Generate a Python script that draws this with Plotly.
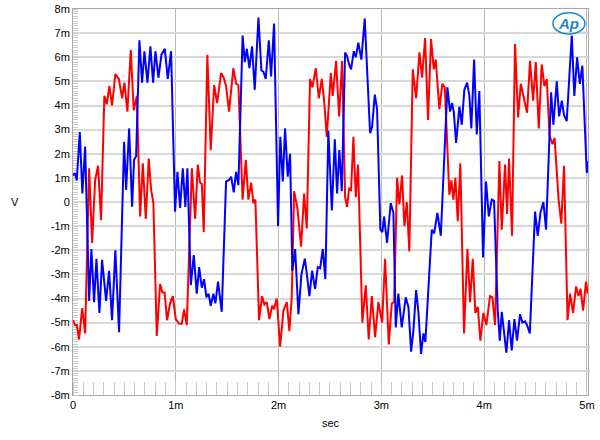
import plotly.graph_objects as go

# time in ms, voltage in mV
red_t = [0.000, 0.020, 0.037, 0.059, 0.089, 0.118, 0.157, 0.186, 0.215, 0.244, 0.273, 0.305, 0.329, 0.354, 0.380,
         0.412, 0.446, 0.478, 0.500, 0.529, 0.562, 0.591, 0.621, 0.653, 0.679, 0.708, 0.737, 0.760, 0.782, 0.815,
         0.847, 0.870, 0.891, 0.915, 0.944, 0.971, 1.000, 1.032, 1.058, 1.081, 1.107, 1.156, 1.188, 1.214, 1.236,
         1.253, 1.272, 1.307, 1.340, 1.373, 1.402, 1.441, 1.467, 1.489, 1.518, 1.560, 1.587, 1.609, 1.650, 1.681,
         1.706, 1.733, 1.755, 1.774, 1.810, 1.839, 1.862, 1.885, 1.911, 1.937, 1.956, 1.982, 2.015, 2.047, 2.080,
         2.105, 2.128, 2.151, 2.183, 2.219, 2.248, 2.274, 2.306, 2.329, 2.362, 2.391, 2.420, 2.443, 2.469, 2.508,
         2.527, 2.559, 2.589, 2.618, 2.647, 2.666, 2.686, 2.705, 2.728, 2.751, 2.773, 2.815, 2.848, 2.877, 2.907,
         2.939, 2.971, 3.007, 3.036, 3.072, 3.101, 3.124, 3.153, 3.175, 3.201, 3.224, 3.247, 3.272, 3.305, 3.338,
         3.370, 3.396, 3.425, 3.454, 3.483, 3.510, 3.529, 3.564, 3.593, 3.617, 3.661, 3.681, 3.700, 3.720, 3.743,
         3.768, 3.804, 3.837, 3.863, 3.889, 3.914, 3.938, 3.963, 3.992, 4.021, 4.057, 4.080, 4.106, 4.148, 4.171,
         4.203, 4.223, 4.242, 4.271, 4.300, 4.330, 4.356, 4.388, 4.417, 4.446, 4.476, 4.502, 4.531, 4.560, 4.586,
         4.609, 4.636, 4.665, 4.685, 4.724, 4.750, 4.777, 4.811, 4.836, 4.865, 4.894, 4.918, 4.938, 4.962, 4.991,
         5.008]
red_v = [-4.9, -5.1, -5.1, -5.7, -4.4, -5.45, 1.4, -1.7, 0.9, 1.5, -0.75, 4.4, 4.05, 4.8, 4.0,
         5.3, 5.1, 4.3, 4.95, 3.75, 6.3, 3.8, 4.4, -0.6, 1.6, -0.7, 1.8, 0.5, -0.05, -5.55,
         -3.4, -3.75, -3.75, -4.9, -4.2, -3.9, -4.85, -5.05, -5.05, -4.45, -5.1, 1.4, -0.7, 1.55, 0.8,
         0.75, -1.25, 6.1, 2.15, 4.85, 4.1, 5.35, 5.15, 4.8, 3.75, 5.55, 4.9, 4.85, 0.1, 1.75,
         0.1, 0.8, -0.05, 0.1, -4.9, -3.9, -4.25, -4.15, -4.85, -4.3, -4.45, -4.0, -6.0, -4.5, -4.15,
         -5.35, -3.95, 0.45, -0.25, -1.85, 0.35, -1.1, 5.1, 4.75, 5.55, 4.3, 5.1, 4.2, 2.7, 5.35,
         4.4, 5.85, 3.55, 5.85, 0.2, -0.2, 0.55, 0.5, 2.7, 0.2, 1.55, -5.0, -3.45, -5.7, -3.9,
         -5.6, -4.15, -5.0, -2.35, -5.9, -4.2, -4.15, 1.0, -0.1, 1.1, -1.0, 0.0, -2.05, 5.5, 4.3,
         6.2, 5.15, 6.8, 3.4, 6.75, 5.5, 5.9, 3.85, 4.9, 4.75, 0.3, 0.9, 0.1, 1.0, -0.8,
         1.6, -5.45, -1.95, -4.15, -2.35, -4.6, -4.35, -5.75, -4.6, -5.1, -3.9, -3.95, -5.1, 1.7, -1.15,
         1.55, -0.5, 1.8, -1.4, 6.55, 3.5, 4.9, 4.3, 3.7, 5.85, 4.2, 5.8, 3.05, 5.7, 4.8,
         5.1, 2.75, 2.4, 2.65, 0.1, -0.9, 1.5, -4.9, -3.8, -4.6, -3.5, -3.9, -3.6, -4.5, -3.3,
         -3.8]

blue_t = [0.000, 0.018, 0.037, 0.066, 0.091, 0.118, 0.157, 0.179, 0.205, 0.228, 0.257, 0.283, 0.322, 0.351, 0.380,
          0.412, 0.448, 0.497, 0.517, 0.546, 0.575, 0.594, 0.614, 0.646, 0.672, 0.695, 0.724, 0.753, 0.779, 0.802,
          0.831, 0.860, 0.893, 0.922, 0.954, 0.993, 1.016, 1.042, 1.068, 1.093, 1.113, 1.146, 1.175, 1.204, 1.227,
          1.253, 1.275, 1.298, 1.319, 1.340, 1.366, 1.385, 1.411, 1.447, 1.489, 1.516, 1.538, 1.564, 1.587, 1.609,
          1.650, 1.671, 1.691, 1.716, 1.742, 1.768, 1.804, 1.833, 1.852, 1.875, 1.905, 1.927, 1.956, 1.995, 2.017,
          2.041, 2.063, 2.089, 2.112, 2.134, 2.161, 2.193, 2.222, 2.255, 2.274, 2.300, 2.326, 2.355, 2.381, 2.404,
          2.430, 2.455, 2.484, 2.518, 2.547, 2.569, 2.591, 2.615, 2.647, 2.666, 2.686, 2.705, 2.732, 2.751, 2.776,
          2.805, 2.838, 2.868, 2.890, 2.909, 2.936, 2.958, 2.990, 3.010, 3.026, 3.055, 3.091, 3.117, 3.140, 3.165,
          3.198, 3.237, 3.263, 3.289, 3.311, 3.338, 3.360, 3.386, 3.409, 3.428, 3.459, 3.490, 3.513, 3.545, 3.578,
          3.642, 3.668, 3.688, 3.704, 3.727, 3.759, 3.782, 3.807, 3.834, 3.856, 3.875, 3.902, 3.928, 3.953, 3.989,
          4.018, 4.045, 4.074, 4.096, 4.132, 4.152, 4.171, 4.191, 4.216, 4.242, 4.268, 4.294, 4.320, 4.349, 4.372,
          4.398, 4.417, 4.444, 4.495, 4.521, 4.547, 4.576, 4.602, 4.651, 4.673, 4.706, 4.729, 4.755, 4.777, 4.803,
          4.852, 4.877, 4.904, 4.930, 4.955, 4.998, 5.008]
blue_v = [1.1, 1.2, 0.9, 2.9, 0.35, 2.3, -4.1, -1.95, -4.15, -2.35, -4.6, -2.4, -4.1, -2.85, -4.9,
          -2.0, -5.4, 2.5, 0.5, 3.05, -0.2, 1.75, 1.9, 6.7, 4.95, 6.25, 4.95, 6.45, 4.95, 6.25,
          5.15, 6.1, 6.35, 5.1, 6.25, -0.4, 1.25, -0.25, 1.4, -0.2, 1.4, -3.45, -2.2, -3.8, -2.7,
          -3.55, -3.2, -3.95, -3.8, -4.3, -3.8, -4.2, -3.3, -4.55, 0.85, 0.9, 1.05, 0.4, 1.25, 0.7,
          6.9, 5.8, 6.35, 5.55, 6.45, 4.65, 7.65, 5.45, 5.4, 5.1, 6.7, 5.2, 7.4, -1.0, 2.7,
          0.85, 3.05, 1.05, 2.0, -2.85, -1.95, -4.65, -3.0, -2.35, -2.95, -3.9, -2.85, -3.6, -2.7, -2.75,
          -1.95, -3.2, 2.95, -0.35, 2.6, 0.35, 2.15, 0.45, 6.2, 6.05, 5.7, 5.5, 6.25, 6.0, 6.6,
          5.9, 7.6, 4.55, 2.85, 3.1, 4.45, 3.85, -1.15, -1.25, -0.6, -1.7, -0.05, -0.45, -5.2, -3.8,
          -5.2, -3.95, -4.35, -6.2, -5.35, -3.65, -4.55, -6.3, -5.45, -5.8, -3.4, -1.15, -1.3, -0.45, -1.4,
          4.75, 3.75, 4.1, 3.75, 2.45, 3.95, 3.2, 4.65, 4.95, 4.4, 3.05, 5.9, 2.8, 4.6, -2.3,
          0.85, -0.6, 0.1, 0.05, -4.5, -5.75, -4.55, -5.45, -6.25, -4.9, -6.15, -4.85, -5.75, -4.65, -5.0,
          -4.95, -5.1, -5.45, -0.4, -1.4, -0.45, 0.0, -1.15, 4.55, 3.2, 5.0, 3.55, 4.2, 3.6, 3.35,
          6.9, 4.4, 6.0, 4.9, 5.65, 1.2, 1.7]

x_tickvals = [0, 1, 2, 3, 4, 5]
x_ticktext = ["0", "1m", "2m", "3m", "4m", "5m"]
y_tickvals = [8, 7, 6, 5, 4, 3, 2, 1, 0, -1, -2, -3, -4, -5, -6, -7, -8]
y_ticktext = ["8m", "7m", "6m", "5m", "4m", "3m", "2m", "1m", "0",
              "-1m", "-2m", "-3m", "-4m", "-5m", "-6m", "-7m", "-8m"]

fig = go.Figure()
fig.add_trace(go.Scatter(x=red_t, y=red_v, mode="lines",
                         line=dict(color="#ff0000", width=2), showlegend=False))
fig.add_trace(go.Scatter(x=blue_t, y=blue_v, mode="lines",
                         line=dict(color="#0000ff", width=2), showlegend=False))

font = dict(family="Liberation Sans, Arial, sans-serif", size=11, color="#000000")

fig.update_layout(
    width=600, height=440,
    margin=dict(l=73, r=12, t=9, b=45),
    paper_bgcolor="white", plot_bgcolor="white",
    font=font,
    xaxis=dict(range=[0, 5.01], tickmode="array", tickvals=x_tickvals, ticktext=x_ticktext,
               automargin=False, layer="below traces",
               showgrid=True, gridcolor="#b8b8b8", gridwidth=1, zeroline=False,
               showline=True, linecolor="#a8a8a8", linewidth=1, mirror=True,
               ticks="", ticklen=0, tickfont=font,
               minor=dict(dtick=0.1, tick0=0, ticks="inside", ticklen=13,
                          tickcolor="#c8c8c8", tickwidth=1, showgrid=False)),
    yaxis=dict(range=[-8, 8], tickmode="array", tickvals=y_tickvals, ticktext=y_ticktext,
               automargin=False, layer="below traces",
               showgrid=True, gridcolor="#d8d8d8", gridwidth=2, zeroline=False,
               showline=True, linecolor="#a8a8a8", linewidth=1, mirror=True,
               ticks="", ticklen=0, tickfont=font,
               minor=dict(dtick=0.1, tick0=0, ticks="inside", ticklen=5,
                          tickcolor="#c8c8c8", tickwidth=1, showgrid=False)),
    annotations=[
        dict(text="V", xref="paper", yref="y", x=-0.113, y=0, showarrow=False,
             xanchor="center", yanchor="middle", font=font),
        dict(text="sec", xref="paper", yref="paper", x=0.5, y=-0.073, showarrow=False,
             xanchor="center", yanchor="middle", font=font),
        dict(text="<b><i>Ap</i></b>", xref="paper", yref="paper", x=0.962, y=0.962,
             showarrow=False, xanchor="center", yanchor="middle",
             font=dict(family="Liberation Sans, Arial, sans-serif", size=15, color="#1f86c6")),
    ],
    shapes=[
        dict(type="circle", xref="paper", yref="paper", x0=0.932, x1=0.994, y0=0.935, y1=0.99,
             line=dict(color="#1f86c6", width=1.5)),
    ],
)

fig.write_html("out.html", config={"displayModeBar": False},
               post_script="document.body.style.margin='0';document.body.style.padding='0';")
